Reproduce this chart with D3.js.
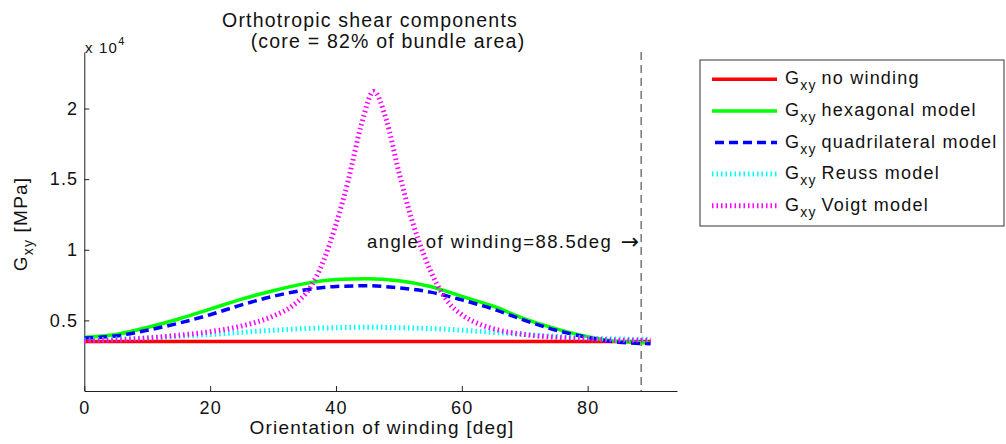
<!DOCTYPE html>
<html>
<head>
<meta charset="utf-8">
<script src="https://cdn.jsdelivr.net/npm/d3@7"></script>
<style>
  body { margin: 0; background: #fff; }
  text { font-family: "Liberation Sans", Arial, sans-serif; fill: #111; letter-spacing: 1.2px; }
</style>
</head>
<body>
<svg id="chart" width="1006" height="444"></svg>
<script>
// orientation of winding [deg]
let angles = [0, 5, 10, 15, 20, 25, 30, 35, 40, 45, 50, 55, 60, 65, 70, 75, 80, 85, 90];
let voigtAngles = [0, 5, 10, 15, 20, 25, 30, 33, 36, 38, 40, 42, 44, 46, 48, 50, 52, 54, 56, 58, 60, 63, 66, 70, 75, 80, 85, 90];

// G_xy [MPa]
let noWinding = [3500, 3500, 3500, 3500, 3500, 3500, 3500, 3500, 3500, 3500, 3500, 3500, 3500, 3500, 3500, 3500, 3500, 3500, 3500];
let hexagonal = [3800, 4000, 4500, 5100, 5800, 6500, 7100, 7600, 7900, 7950, 7800, 7400, 6700, 6000, 5100, 4400, 3850, 3500, 3400];
let quadrilateral = [3750, 3900, 4300, 4800, 5400, 6100, 6700, 7150, 7400, 7450, 7300, 7000, 6450, 5800, 5000, 4300, 3800, 3450, 3350];
let reuss = [3600, 3680, 3750, 3870, 4000, 4150, 4300, 4420, 4480, 4520, 4480, 4420, 4300, 4150, 4000, 3870, 3750, 3680, 3650];
let voigt = [3550, 3600, 3750, 3950, 4200, 4600, 5300, 6000, 7400, 9200, 11800, 15000, 18800, 21200, 19200, 15500, 12200, 9600, 7600, 6200, 5400, 4700, 4300, 4000, 3800, 3700, 3600, 3600];

let xTicks = [0, 20, 40, 60, 80];
let yTicks = [5000, 10000, 15000, 20000];
let windingAngle = 88.5;

let series = [
  { name: 'no winding', xs: angles, ys: noWinding, color: '#ff0000', dash: null, width: 3.5, x0: 712 },
  { name: 'hexagonal model', xs: angles, ys: hexagonal, color: '#00ff00', dash: null, width: 3.5, x0: 712 },
  { name: 'quadrilateral model', xs: angles, ys: quadrilateral, color: '#0000ff', dash: '9,5', width: 3.5, x0: 715 },
  { name: 'Reuss model', xs: angles, ys: reuss, color: '#00ffff', dash: '1.5,3', width: 5, x0: 712 },
  { name: 'Voigt model', xs: voigtAngles, ys: voigt, color: '#ff00ff', dash: '1.5,3', width: 5, x0: 712 }
];

let svg = d3.select('#chart');

let x = d3.scaleLinear().domain([0, 94.2]).range([84.3, 677]);
let y = d3.scaleLinear().domain([0, 24000]).range([391, 52]);

// axes (ticks point inward like matlab)
let xAxis = svg.append('g')
  .attr('transform', 'translate(0,' + y(0) + ')')
  .call(d3.axisBottom(x).tickValues(xTicks).tickSizeInner(-5).tickSizeOuter(0).tickPadding(10));
let yAxis = svg.append('g')
  .attr('transform', 'translate(' + x(0) + ',0)')
  .call(d3.axisLeft(y).tickValues(yTicks).tickSizeInner(-5).tickSizeOuter(0).tickPadding(6)
    .tickFormat((d) => d / 10000));

[xAxis, yAxis].forEach((a) => {
  a.selectAll('path, line').attr('stroke', '#222');
  a.selectAll('text').style('font-size', '18px').attr('fill', '#111');
});

// vertical dashed line at the winding angle
svg.append('line')
  .attr('x1', x(windingAngle)).attr('x2', x(windingAngle))
  .attr('y1', y(24000)).attr('y2', y(0))
  .attr('stroke', '#555').attr('stroke-width', 1.2).attr('stroke-dasharray', '8,5');

// curves
let line = d3.line().curve(d3.curveMonotoneX);
series.forEach((s) => {
  let pts = s.xs.map((a, i) => [x(a), y(s.ys[i])]);
  svg.append('path')
    .attr('d', line(pts))
    .attr('fill', 'none')
    .attr('stroke', s.color)
    .attr('stroke-width', s.width)
    .attr('stroke-dasharray', s.dash);
});

// annotation, arrow tip right at the dashed line
svg.append('text')
  .attr('x', 367).attr('y', 248)
  .attr('textLength', 245)
  .attr('lengthAdjust', 'spacing')
  .style('font-size', '18.5px')
  .text('angle of winding=88.5deg');
svg.append('text')
  .attr('x', x(windingAngle) - 2).attr('y', 249)
  .attr('text-anchor', 'end')
  .style('font-family', '"DejaVu Sans"')
  .style('letter-spacing', '0px')
  .style('font-size', '22px')
  .text('\u2192');

// title
svg.append('text').attr('x', 370).attr('y', 27).attr('text-anchor', 'middle')
  .style('font-size', '19.5px').text('Orthotropic shear components');
svg.append('text').attr('x', 388).attr('y', 48).attr('text-anchor', 'middle')
  .style('font-size', '19.5px').text('(core = 82% of bundle area)');

// exponent
let expo = svg.append('text').attr('x', 85).attr('y', 53).style('font-size', '15px');
expo.append('tspan').text('x 10');
expo.append('tspan').attr('dy', -8).style('font-size', '11px').text('4');

// axis labels
svg.append('text').attr('x', 382).attr('y', 434).attr('text-anchor', 'middle')
  .style('font-size', '19px').text('Orientation of winding [deg]');

let yl = svg.append('text')
  .attr('transform', 'translate(27,224) rotate(-90)')
  .attr('text-anchor', 'middle')
  .style('font-size', '19px');
yl.append('tspan').text('G');
yl.append('tspan').attr('dy', 6).style('font-size', '14px').text('xy');
yl.append('tspan').attr('dy', -6).text(' [MPa]');

// legend
let legend = svg.append('g');
legend.append('rect')
  .attr('x', 700).attr('y', 60).attr('width', 304).attr('height', 166)
  .attr('fill', '#fff').attr('stroke', '#333').attr('stroke-width', 1);

series.forEach((s, i) => {
  let ly = 79.3 + i * 31.6;
  legend.append('line')
    .attr('x1', s.x0).attr('x2', 777)
    .attr('y1', ly).attr('y2', ly)
    .attr('stroke', s.color).attr('stroke-width', s.width)
    .attr('stroke-dasharray', s.dash);
  let t = legend.append('text').attr('x', 785).attr('y', ly + 5).style('font-size', '18px');
  t.append('tspan').text('G');
  t.append('tspan').attr('dy', 6).style('font-size', '14px').text('xy');
  t.append('tspan').attr('dy', -6).attr('dx', 5).text(s.name);
});
</script>
</body>
</html>
